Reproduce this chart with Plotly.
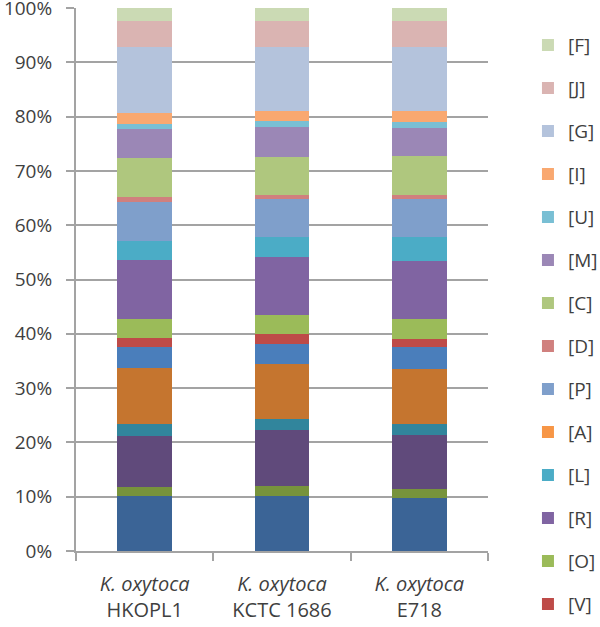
import plotly.graph_objects as go

categories = ["<i>K. oxytoca</i><br>HKOPL1", "<i>K. oxytoca</i><br>KCTC 1686", "<i>K. oxytoca</i><br>E718"]

# series listed bottom-to-top of the stack
series_names = ["[K]", "[T]", "[E]", "[H]", "[Q]", "[S]",
                "[V]", "[O]", "[R]", "[L]", "[A]", "[P]", "[D]", "[C]",
                "[M]", "[U]", "[I]", "[G]", "[J]", "[F]"]
in_legend = [False] * 6 + [True] * 14

values_hkopl1 = [10.1, 1.7, 9.4, 2.2, 10.2, 4.0, 1.6, 3.5, 10.9, 3.4, 0.0, 7.2, 0.9, 7.15, 5.35, 1.0, 2.1, 12.0, 4.9, 2.34]
values_kctc1686 = [10.2, 1.7, 10.3, 2.2, 10.0, 3.8, 1.7, 3.6, 10.7, 3.6, 0.0, 7.0, 0.8, 7.0, 5.4, 1.1, 2.0, 11.66, 4.9, 2.34]
values_e718 = [9.8, 1.7, 9.9, 2.0, 10.2, 3.9, 1.6, 3.6, 10.8, 4.4, 0.0, 6.9, 0.8, 7.1, 5.3, 1.0, 2.0, 11.8, 4.9, 2.34]

colors = ["#3B6496", "#77933C", "#604A7B", "#31859C", "#C5752F", "#4A7EBB",
          "#BE4B48", "#9BBB59", "#8064A2", "#4BACC6", "#F79646", "#7F9FCB",
          "#D0807E", "#AFC77E", "#9B87B6", "#79BFD4", "#F9A870", "#B4C3DC",
          "#DAB4B2", "#CBDAB4"]

fig = go.Figure()
n = len(series_names)
for i, name in enumerate(series_names):
    fig.add_trace(go.Bar(
        x=categories,
        y=[values_hkopl1[i], values_kctc1686[i], values_e718[i]],
        name=name,
        legendgroup=name,
        legendrank=n - i,
        showlegend=in_legend[i],
        marker=dict(color=colors[i], line=dict(width=0)),
    ))

grid_col = "#A3A3A3"
txt_col = "#3F3F3F"
fig.update_layout(
    width=600, height=627,
    barmode="stack", barnorm="percent", bargap=0.6,
    paper_bgcolor="white", plot_bgcolor="white",
    margin=dict(l=76, r=112, t=8, b=76, autoexpand=False),
    font=dict(family="Open Sans", size=20, color=txt_col),
    legend=dict(
        traceorder="grouped", tracegroupgap=15.3,
        x=1.097, xanchor="left", y=0.9665, yanchor="top",
        maxheight=615,
        font=dict(size=19, color=txt_col),
        bgcolor="rgba(0,0,0,0)",
    ),
    xaxis=dict(
        showline=True, linecolor=grid_col, linewidth=2,
        ticks="outside", tickson="boundaries", ticklen=8, tickcolor=grid_col, tickwidth=2,
        showgrid=False, tickfont=dict(size=20, color=txt_col),
        ticklabelstandoff=14,
    ),
    yaxis=dict(
        range=[0, 100], dtick=10, ticksuffix="%",
        showline=True, linecolor=grid_col, linewidth=2,
        ticks="outside", ticklen=8, tickcolor=grid_col, tickwidth=2,
        showgrid=True, gridcolor=grid_col, gridwidth=2,
        zeroline=False, tickfont=dict(size=19, color=txt_col),
        ticklabelstandoff=10, ticklabeloverflow="allow",
    ),
)

fig.write_html(
    "out.html",
    config={"displayModeBar": False},
    post_script="document.body.style.margin='0';document.body.style.overflow='hidden';",
)
